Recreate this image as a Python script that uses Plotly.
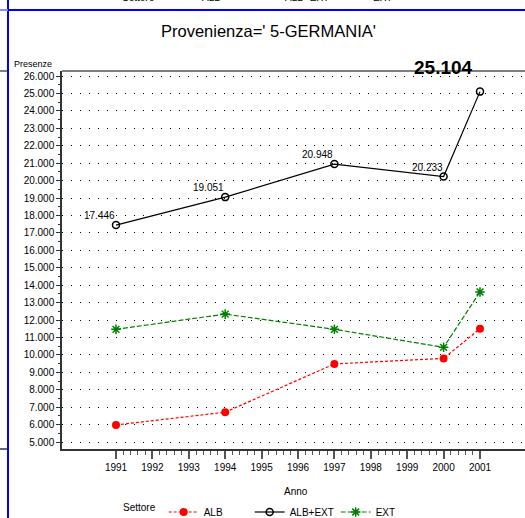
import plotly.graph_objects as go

# ---------------- data ----------------
YEARS = [1991, 1994, 1997, 2000, 2001]
ALB = [5980, 6711, 9481, 9799, 11496]
EXT = [11466, 12340, 11467, 10434, 13608]
ALB_EXT = [17446, 19051, 20948, 20233, 25104]
SERIES_NAMES = ["ALB", "ALB+EXT", "EXT"]
X_TICKS = list(range(1991, 2002))
Y_TICKS = list(range(5000, 27000, 1000))
TITLE = "Provenienza=' 5-GERMANIA'"
X_TITLE = "Anno"
Y_TITLE = "Presenze"
LEGEND_TITLE = "Settore"

# ---------------- geometry (pixels) ----------------
W, H = 525, 518
L, R, T, B = 62, 0, 71, 69
PW, PH = W - L - R, H - T - B


def px(x):
    return (x - L) / PW


def py(y):
    return (H - B - y) / PH


FONT = "Liberation Sans, Arial, sans-serif"

fig = go.Figure()

fig.add_trace(go.Scatter(
    x=YEARS, y=ALB, name=SERIES_NAMES[0], mode="lines+markers",
    line=dict(color="#ff0000", width=1.2, dash="3px,2px"),
    marker=dict(symbol="circle", size=8, color="#ff0000"),
))
fig.add_trace(go.Scatter(
    x=YEARS, y=ALB_EXT, name=SERIES_NAMES[1], mode="lines+markers",
    line=dict(color="#000000", width=1.2),
    marker=dict(symbol="circle-open", size=7, color="#000000",
                line=dict(width=1.5, color="#000000")),
))
fig.add_trace(go.Scatter(
    x=YEARS, y=EXT, name=SERIES_NAMES[2], mode="lines+markers",
    line=dict(color="#008000", width=1.2, dash="5px,2px"),
    marker=dict(symbol="asterisk-open", size=8, color="#008000",
                line=dict(width=1.5, color="#008000")),
))

annotations = []
# data labels for ALB+EXT
for i, (xv, yv) in enumerate(zip(YEARS, ALB_EXT)):
    label = f"{yv:,}".replace(",", ".")
    big = i == len(YEARS) - 1
    annotations.append(dict(
        x=xv, y=yv, xref="x", yref="y", text=label, showarrow=False,
        xanchor="right", yanchor="bottom",
        xshift=-5 if big else 1, yshift=12 if big else 2,
        font=dict(family=FONT, size=19 if big else 10, color="#000",
                  weight="bold" if big else "normal"),
    ))

annotations += [
    dict(text=TITLE, x=px(268), y=py(31), xref="paper", yref="paper",
         showarrow=False, xanchor="center", yanchor="middle",
         font=dict(family=FONT, size=16.5, color="#000")),
    dict(text=X_TITLE, x=px(296), y=py(491), xref="paper", yref="paper",
         showarrow=False, xanchor="center", yanchor="middle",
         font=dict(family=FONT, size=10, color="#000")),
    dict(text=Y_TITLE, x=px(33), y=py(64), xref="paper", yref="paper",
         showarrow=False, xanchor="center", yanchor="middle",
         font=dict(family=FONT, size=9, color="#000")),
]

# cut-off legend of previous page at the very top
for txt, cx in [(LEGEND_TITLE, 138), (SERIES_NAMES[0], 211),
                (SERIES_NAMES[1], 307), (SERIES_NAMES[2], 382)]:
    annotations.append(dict(text=txt, x=px(cx), y=py(5), xref="paper",
                            yref="paper", showarrow=False, xanchor="center",
                            yanchor="bottom",
                            font=dict(family=FONT, size=10, color="#000")))

shapes = [
    # blue page separators
    dict(type="line", xref="paper", yref="paper", x0=px(8), x1=px(8),
         y0=py(H), y1=py(0), line=dict(color="#0000ff", width=2)),
    dict(type="line", xref="paper", yref="paper", x0=px(8), x1=px(W),
         y0=py(10), y1=py(10), line=dict(color="#0000ff", width=2)),
    dict(type="line", xref="paper", yref="paper", x0=px(0), x1=px(8),
         y0=py(10), y1=py(10), line=dict(color="#8888ff", width=2)),
    # neighbouring page frame remnants
    dict(type="line", xref="paper", yref="paper", x0=px(0), x1=px(7),
         y0=py(71), y1=py(71), line=dict(color="#555", width=1.5)),
    dict(type="line", xref="paper", yref="paper", x0=px(0), x1=px(7),
         y0=py(449), y1=py(449), line=dict(color="#333", width=1.5)),
    # top frame line of the plot area
    dict(type="line", xref="paper", yref="paper", x0=0, x1=1,
         y0=1, y1=1, line=dict(color="#555", width=1.5)),
]

minor_x = [1991 + k * 0.2 for k in range(51) if k % 5 != 0]

fig.update_layout(
    width=W, height=H,
    margin=dict(l=L, r=R, t=T, b=B, pad=0, autoexpand=False),
    paper_bgcolor="white", plot_bgcolor="white",
    separators=",.",
    showlegend=True,
    legend=dict(
        orientation="h", xref="container", yref="container",
        x=121 / W, y=(H - 512) / H, xanchor="left", yanchor="middle",
        title=dict(text=LEGEND_TITLE, side="left",
                   font=dict(family=FONT, size=10)),
        font=dict(family=FONT, size=10, color="#000"),
        itemwidth=30, entrywidth=41, entrywidthmode="pixels",
        bgcolor="rgba(0,0,0,0)", borderwidth=0,
    ),
    annotations=annotations,
    shapes=shapes,
    xaxis=dict(
        range=[1991 - 54 / 36.4, 1991 - 54 / 36.4 + PW / 36.4],
        tickmode="array", tickvals=X_TICKS,
        ticktext=[str(v) for v in X_TICKS],
        ticks="outside", ticklen=8, tickwidth=1.5, tickcolor="#555",
        minor=dict(tickmode="array", tickvals=minor_x, ticks="outside",
                   ticklen=4, tickwidth=1, tickcolor="#555"),
        showgrid=False, zeroline=False,
        showline=True, linecolor="#333", linewidth=1.5, mirror=False,
        tickfont=dict(family=FONT, size=10, color="#000"),
    ),
    yaxis=dict(
        range=[4600, 26287],
        tickmode="array", tickvals=Y_TICKS,
        tickformat=",.0f",
        ticks="outside", ticklen=4, tickwidth=1, tickcolor="#333",
        minor=dict(dtick=500, tick0=0, ticks="outside", ticklen=2,
                   tickcolor="#333", showgrid=False),
        showgrid=True, gridcolor="#000", gridwidth=1, griddash="1px,8px",
        zeroline=False,
        showline=True, linecolor="#333", linewidth=1.5, mirror=False,
        tickfont=dict(family=FONT, size=10, color="#000"),
    ),
)

fig.write_html("out.html", config={"displayModeBar": False},
               post_script="document.body.style.margin='0';document.body.style.padding='0';")
